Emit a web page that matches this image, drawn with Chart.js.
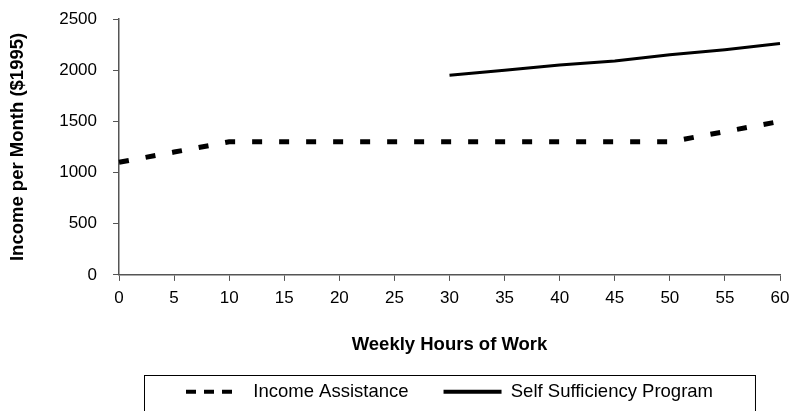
<!DOCTYPE html>
<html>
<head>
<meta charset="utf-8">
<script src="https://cdn.jsdelivr.net/npm/chart.js@4/dist/chart.umd.min.js"></script>
<style>
  html, body { margin: 0; padding: 0; background: #fff; }
  #wrap { width: 793px; height: 411px; }
</style>
</head>
<body>
<div id="wrap"><canvas id="incomeChart" width="793" height="411"></canvas></div>
<script>
const hours = [0, 5, 10, 15, 20, 25, 30, 35, 40, 45, 50, 55, 60];
const incomeAssistance = [1100, 1200, 1300, 1300, 1300, 1300, 1300, 1300, 1300, 1300, 1300, 1400, 1500];
const selfSufficiency = [null, null, null, null, null, null, 1950, 2000, 2050, 2090, 2150, 2200, 2260];
const yTicks = [0, 500, 1000, 1500, 2000, 2500];

const axisGrey = '#555555';
const fontFam = '"Liberation Sans", Arial, sans-serif';

// kotak tepi legenda (legend di Chart.js tidak punya border)
const legendBorder = {
    id: 'legendBorder',
    afterDraw(chart) {
        const boxes = chart.legend.legendHitBoxes;
        if (!boxes || !boxes.length) return;
        const left = Math.min(...boxes.map(b => b.left)) - 42;
        const right = Math.max(...boxes.map(b => b.left + b.width)) + 42;
        const top = boxes[0].top - 8;
        const ctx = chart.ctx;
        ctx.save();
        ctx.strokeStyle = '#000';
        ctx.lineWidth = 1;
        ctx.strokeRect(Math.round(left) + 0.5, Math.round(top) + 0.5, right - left, chart.height - top + 10);
        ctx.restore();
    }
};

// contoh garis di legenda: putus-putus 3 ruas, tebal sama
function buatLabel(chart) {
    const items = Chart.defaults.plugins.legend.labels.generateLabels(chart);
    return items.map((item, i) => {
        item.lineWidth = 4;
        item.lineDash = i === 0 ? [10, 8, 10, 8, 10, 30] : [];
        return item;
    });
}

new Chart(document.getElementById('incomeChart'), {
    type: 'line',
    data: {
        labels: hours,
        datasets: [
            {
                label: 'Income Assistance', data: incomeAssistance,
                borderColor: '#000', backgroundColor: '#000',
                borderWidth: 5, borderDash: [10, 17], borderCapStyle: 'butt',
                pointRadius: 0, tension: 0, pointStyle: 'line'
            },
            {
                label: 'Self Sufficiency Program', data: selfSufficiency,
                borderColor: '#000', backgroundColor: '#000',
                borderWidth: 3, pointRadius: 0, tension: 0, spanGaps: false, pointStyle: 'line'
            }
        ]
    },
    options: {
        responsive: false, animation: false,
        layout: { padding: { top: 19, right: 13, left: 7, bottom: 0 } },
        scales: {
            x: {
                type: 'category', offset: false,
                afterFit: (axis) => { axis.paddingRight = 0; },
                grid: { display: true, drawOnChartArea: false, drawTicks: true, tickLength: 6, color: axisGrey },
                border: { color: axisGrey, width: 1.5 },
                ticks: { color: '#000', font: { family: fontFam, size: 17 }, padding: 7, maxRotation: 0, autoSkip: false },
                title: { display: true, text: 'Weekly Hours of Work', color: '#000', font: { family: fontFam, size: 18.5, weight: 'bold' }, padding: { top: 19, bottom: -9 } }
            },
            y: {
                min: 0, max: 2500,
                afterBuildTicks: (axis) => { axis.ticks = yTicks.map(v => ({ value: v })); },
                afterFit: (axis) => { axis.paddingTop = 0; },
                grid: { display: true, drawOnChartArea: false, drawTicks: true, tickLength: 6, color: axisGrey },
                border: { color: axisGrey, width: 1.5 },
                ticks: { color: '#000', font: { family: fontFam, size: 17 }, padding: 16, callback: (v) => String(v) },
                title: { display: true, text: 'Income per Month ($1995)', color: '#000', font: { family: fontFam, size: 18.5, weight: 'bold' }, padding: { top: 0, bottom: 14 } }
            }
        },
        plugins: {
            legend: {
                position: 'bottom', fullSize: false,
                labels: {
                    color: '#000', font: { family: fontFam, size: 18.5 },
                    usePointStyle: true, pointStyleWidth: 58, boxHeight: 14,
                    padding: 35, generateLabels: buatLabel
                }
            },
            tooltip: { enabled: false }
        }
    },
    plugins: [legendBorder]
});
</script>
</body>
</html>
